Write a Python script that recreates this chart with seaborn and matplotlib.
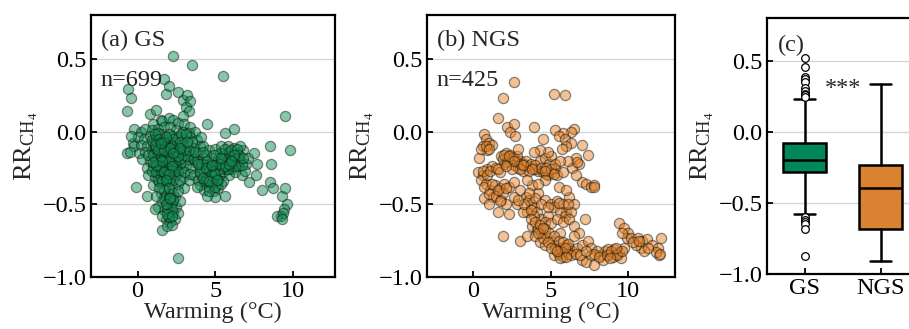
import matplotlib
matplotlib.use("Agg")
import matplotlib.pyplot as plt
import seaborn as sns
import pandas as pd

# ---------------- data ----------------
gs_points = [
    (-0.6, 0.29), (-0.45, 0.23), (-0.7, 0.14), (1.7, 0.36), (2.3, 0.52), (3.5, 0.46), (5.5, 0.38),
    (2.0, 0.31), (1.8, 0.26), (2.6, 0.27), (2.9, 0.22), (3.2, 0.25), (3.4, 0.21), (3.1, 0.17),
    (3.3, 0.14), (2.9, 0.11), (0.8, 0.12), (1.2, 0.15), (1.5, 0.08), (9.5, 0.11), (9.8, -0.13),
    (6.2, 0.02), (5.6, -0.01), (4.5, 0.05), (-0.1, -0.38), (0.6, -0.44), (2.6, -0.87), (1.6, -0.68),
    (-0.7, -0.15), (-0.3, -0.08), (-0.2, 0.02), (0.2, 0.0),
    (1.6, 0.07), (2.0, 0.09), (2.3, 0.08), (2.6, 0.06), (1.0, 0.05), (3.0, 0.05), (3.4, 0.03),
    (0.5, 0.02), (0.9, 0.01), (1.3, 0.02), (1.7, 0.03), (2.1, 0.03), (2.5, 0.01), (2.9, 0.0),
    (3.3, -0.01), (3.7, 0.0),
    (0.0, -0.04), (0.4, -0.05), (0.8, -0.03), (1.2, -0.04), (1.5, -0.02), (1.9, -0.05), (2.2, -0.03),
    (2.6, -0.04), (3.0, -0.05), (3.4, -0.04), (3.8, -0.06), (-0.4, -0.03),
    (-0.2, -0.10), (0.2, -0.09), (0.6, -0.10), (1.0, -0.08), (1.4, -0.09), (1.8, -0.10), (2.1, -0.08),
    (2.4, -0.11), (2.8, -0.09), (3.2, -0.10), (3.6, -0.11), (4.0, -0.10),
    (-0.5, -0.14), (0.1, -0.15), (0.5, -0.14), (0.9, -0.13), (1.3, -0.15), (1.6, -0.14), (2.0, -0.16),
    (2.3, -0.13), (2.7, -0.15), (3.1, -0.14), (3.5, -0.16), (3.9, -0.15),
    (0.3, -0.19), (0.8, -0.20), (1.1, -0.18), (1.5, -0.20), (1.8, -0.19), (2.2, -0.21), (2.5, -0.18),
    (2.9, -0.20), (3.3, -0.19), (3.7, -0.21),
    (0.6, -0.25), (1.0, -0.24), (1.3, -0.26), (1.7, -0.23), (2.0, -0.25), (2.4, -0.24), (2.8, -0.26),
    (3.1, -0.23), (3.5, -0.25),
    (0.7, -0.30), (1.1, -0.31), (1.4, -0.29), (1.8, -0.30), (2.1, -0.32), (2.5, -0.30), (2.9, -0.31),
    (3.3, -0.33),
    (1.0, -0.37), (1.4, -0.35), (1.8, -0.36), (2.2, -0.38), (2.6, -0.36), (3.0, -0.39),
    (1.2, -0.06), (1.6, -0.11), (2.0, -0.13), (2.4, -0.07), (1.4, -0.21), (1.9, -0.27), (2.3, -0.19),
    (2.7, -0.22), (1.1, -0.12), (1.7, -0.17), (2.2, -0.28), (2.6, -0.12), (1.5, -0.32), (2.0, -0.34),
    (1.3, -0.01), (2.8, -0.02), (3.0, -0.16), (1.9, -0.07), (2.5, -0.26), (1.6, -0.25),
    (0.9, -0.06), (1.1, -0.02), (1.4, -0.05), (1.7, -0.07), (2.0, -0.02), (2.3, -0.05), (2.7, -0.07),
    (3.1, -0.02), (3.5, -0.07),
    (0.7, -0.16), (1.0, -0.16), (1.2, -0.20), (1.5, -0.17), (1.9, -0.14), (2.1, -0.18), (2.4, -0.16),
    (2.8, -0.18), (3.2, -0.17), (3.6, -0.19),
    (0.9, -0.27), (1.2, -0.28), (1.5, -0.27), (1.8, -0.25), (2.1, -0.27), (2.3, -0.25), (2.6, -0.28),
    (3.0, -0.28), (3.4, -0.29),
    (1.3, -0.33), (1.6, -0.34), (1.9, -0.32), (2.3, -0.33), (2.7, -0.33), (1.2, -0.11), (1.5, -0.12),
    (2.2, -0.10), (2.5, -0.14), (2.9, -0.13), (3.3, -0.13),
    (1.1, -0.09), (1.3, -0.13), (1.7, -0.13), (1.8, -0.04), (2.1, -0.11), (2.4, -0.20), (2.6, -0.17),
    (1.4, -0.24), (1.7, -0.28), (2.0, -0.20), (2.2, -0.24), (1.2, -0.23), (1.6, -0.20), (2.0, -0.29),
    (1.8, -0.33), (1.0, -0.21), (2.7, -0.11), (3.2, -0.07), (1.5, -0.08), (2.3, -0.15),
    (1.5, -0.42), (1.8, -0.44), (2.1, -0.43), (2.4, -0.45), (1.6, -0.48), (1.9, -0.50), (2.2, -0.49),
    (2.5, -0.52), (1.7, -0.54), (2.0, -0.56), (2.3, -0.55), (1.8, -0.60), (2.1, -0.62), (2.4, -0.60),
    (2.6, -0.56), (1.9, -0.65), (2.2, -0.64), (1.3, -0.52), (1.1, -0.53), (2.7, -0.48),
    (1.7, -0.40), (2.0, -0.39), (2.3, -0.42), (1.7, -0.46), (2.0, -0.46), (2.3, -0.47), (1.9, -0.53),
    (2.2, -0.53), (1.6, -0.58), (2.0, -0.59), (1.4, -0.39), (1.2, -0.44), (2.6, -0.41),
    (1.8, -0.50), (2.1, -0.46), (1.9, -0.57), (2.2, -0.58),
    (3.8, -0.20), (4.0, -0.25), (4.2, -0.18), (4.4, -0.22), (4.6, -0.27), (4.8, -0.20), (5.0, -0.24),
    (5.2, -0.18), (5.4, -0.22), (5.6, -0.15), (5.8, -0.20), (6.0, -0.17), (6.2, -0.22), (6.4, -0.15),
    (6.6, -0.19), (6.8, -0.13), (7.0, -0.22),
    (3.6, -0.30), (3.9, -0.33), (4.1, -0.30), (4.3, -0.35), (4.5, -0.31), (4.7, -0.36), (4.9, -0.32),
    (5.1, -0.37), (5.3, -0.30), (5.5, -0.28), (5.7, -0.26), (5.9, -0.30), (6.1, -0.26), (6.3, -0.28),
    (6.5, -0.24), (6.7, -0.30),
    (4.0, -0.37), (4.3, -0.40), (4.6, -0.38), (4.9, -0.41), (5.2, -0.39), (5.0, -0.45), (4.5, -0.44),
    (5.6, -0.44), (3.8, -0.38),
    (4.2, -0.10), (4.6, -0.13), (5.0, -0.12), (5.4, -0.10), (5.8, -0.10), (6.2, -0.11), (6.6, -0.10),
    (5.3, -0.15), (5.9, -0.14), (6.5, -0.20), (6.0, -0.24), (5.5, -0.34), (4.8, -0.28), (4.4, -0.16),
    (6.9, -0.27), (7.1, -0.18), (3.7, -0.14), (4.1, -0.04),
    (4.1, -0.22), (4.3, -0.27), (4.5, -0.20), (4.7, -0.24), (4.9, -0.27), (5.1, -0.21), (5.3, -0.26),
    (5.5, -0.19), (5.7, -0.23), (5.9, -0.17), (6.1, -0.20), (6.3, -0.18), (6.5, -0.16), (6.7, -0.23),
    (6.3, -0.24), (5.8, -0.26), (5.2, -0.33), (4.8, -0.35), (4.4, -0.33), (4.0, -0.28), (4.6, -0.41),
    (5.0, -0.38), (5.4, -0.36), (3.9, -0.22), (4.2, -0.14), (4.9, -0.16), (5.6, -0.12), (6.0, -0.13),
    (6.4, -0.12), (6.8, -0.18),
    (4.4, -0.25), (4.7, -0.30), (5.0, -0.29), (5.3, -0.22), (5.6, -0.24), (5.9, -0.22), (6.2, -0.16),
    (6.0, -0.20), (5.4, -0.18), (4.8, -0.23), (4.2, -0.32), (4.6, -0.34), (5.1, -0.33),
    (7.2, -0.35), (7.5, -0.15), (7.6, -0.30), (7.7, -0.22), (8.0, -0.40), (8.5, -0.10), (8.6, -0.22),
    (8.5, -0.35), (8.7, -0.39), (9.3, -0.44), (9.5, -0.39), (9.6, -0.50), (9.4, -0.53), (9.2, -0.58),
    (9.0, -0.58), (9.35, -0.56), (9.3, -0.60),
]

ngs_points = [
    (2.6, 0.34), (1.9, 0.23), (5.2, 0.26), (5.9, 0.25), (1.6, 0.09), (2.2, 0.03), (2.6, 0.05),
    (3.9, 0.03), (2.4, 0.00), (2.7, -0.03), (5.3, 0.01), (6.5, 0.02), (6.3, 0.00), (5.8, -0.01),
    (4.5, -0.05), (7.0, -0.09), (7.4, -0.16),
    (0.7, -0.02), (0.8, -0.05), (0.6, -0.10), (1.0, -0.08), (1.2, -0.09), (0.4, -0.18), (0.9, -0.13),
    (0.5, -0.12), (0.8, -0.10), (1.0, -0.12),
    (0.3, -0.28), (0.6, -0.30), (0.9, -0.26), (1.2, -0.24), (0.5, -0.33), (0.8, -0.36), (1.1, -0.40),
    (0.7, -0.46), (1.3, -0.45), (1.0, -0.50), (0.6, -0.27), (0.9, -0.30), (1.1, -0.27), (0.7, -0.38),
    (1.0, -0.43),
    (1.8, -0.17), (2.1, -0.15), (2.4, -0.16), (2.7, -0.19), (3.0, -0.20), (3.3, -0.22), (3.6, -0.24),
    (3.9, -0.25), (4.2, -0.27), (4.5, -0.28), (4.8, -0.30), (5.1, -0.28), (5.4, -0.30), (2.0, -0.22),
    (2.3, -0.20), (2.6, -0.23), (2.9, -0.25), (3.2, -0.27), (1.5, -0.25), (1.7, -0.28), (4.3, -0.20),
    (4.6, -0.18), (4.9, -0.22), (5.0, -0.17), (5.3, -0.25), (2.2, -0.18), (2.8, -0.21), (3.4, -0.24),
    (4.0, -0.26), (4.7, -0.29),
    (1.9, -0.19), (2.2, -0.21), (2.5, -0.18), (2.8, -0.17), (3.1, -0.22), (3.4, -0.20), (3.7, -0.22),
    (4.0, -0.23), (4.4, -0.25), (4.7, -0.25), (5.0, -0.26), (5.3, -0.22), (3.6, -0.27), (3.0, -0.26),
    (2.5, -0.26), (2.0, -0.16), (2.3, -0.17), (2.6, -0.20), (3.2, -0.23), (3.8, -0.26), (4.6, -0.27),
    (5.2, -0.29), (1.6, -0.26), (2.1, -0.24),
    (1.4, -0.37), (1.7, -0.39), (2.0, -0.36), (2.3, -0.38), (1.5, -0.44), (1.8, -0.47), (2.1, -0.50),
    (1.6, -0.55), (2.3, -0.57), (1.9, -0.72), (1.2, -0.36), (1.9, -0.42), (1.6, -0.40), (2.1, -0.39),
    (1.7, -0.48),
    (2.6, -0.35), (3.0, -0.40), (3.4, -0.45), (3.7, -0.50), (3.9, -0.52), (3.5, -0.55), (4.1, -0.55),
    (3.2, -0.55), (2.8, -0.50), (3.8, -0.37), (4.2, -0.42), (4.6, -0.47), (5.0, -0.50), (5.4, -0.48),
    (5.8, -0.50), (6.2, -0.45), (6.5, -0.50), (4.4, -0.60), (4.8, -0.58), (3.0, -0.75), (3.5, -0.72),
    (3.6, -0.47), (4.0, -0.46), (5.2, -0.52), (6.0, -0.55),
    (3.3, -0.50), (3.6, -0.42), (4.4, -0.50), (4.8, -0.52), (5.6, -0.55), (5.9, -0.58), (6.3, -0.55),
    (3.9, -0.58), (4.6, -0.62), (2.6, -0.45), (2.9, -0.47), (3.7, -0.54), (5.5, -0.49), (6.1, -0.50),
    (3.8, -0.65), (4.1, -0.68), (4.4, -0.70), (4.7, -0.72), (5.0, -0.75), (5.3, -0.78), (5.6, -0.80),
    (5.9, -0.82), (6.2, -0.80), (4.0, -0.72), (4.3, -0.76), (4.6, -0.78), (5.2, -0.85), (5.5, -0.84),
    (5.8, -0.86), (6.0, -0.78), (6.4, -0.82), (6.7, -0.80), (7.0, -0.78), (5.0, -0.63), (5.4, -0.60),
    (5.8, -0.62), (6.2, -0.60), (6.5, -0.65), (6.8, -0.70), (7.2, -0.60), (7.4, -0.75), (7.6, -0.80),
    (4.2, -0.66), (4.5, -0.73), (5.7, -0.83), (6.1, -0.84), (6.5, -0.72), (5.6, -0.70),
    (3.7, -0.60), (4.0, -0.62), (4.3, -0.64), (4.6, -0.67), (4.9, -0.70), (5.2, -0.72), (5.5, -0.75),
    (5.8, -0.76), (6.1, -0.77), (4.2, -0.70), (4.8, -0.76), (5.3, -0.81), (5.6, -0.87), (6.3, -0.85),
    (6.6, -0.84), (4.5, -0.66), (5.0, -0.80), (5.9, -0.80), (6.0, -0.86), (5.4, -0.82),
    (7.0, -0.88), (7.3, -0.90), (7.8, -0.92), (8.2, -0.85), (8.5, -0.82), (8.8, -0.84), (9.1, -0.81),
    (9.4, -0.83), (9.7, -0.80), (8.0, -0.82), (8.4, -0.88), (9.0, -0.86), (9.5, -0.87), (7.6, -0.85),
    (6.9, -0.85), (8.7, -0.81), (9.2, -0.84), (7.8, -0.84), (8.1, -0.86), (8.6, -0.85), (8.9, -0.82),
    (9.3, -0.85), (9.6, -0.82), (7.3, -0.82), (9.2, -0.80), (8.8, -0.87),
    (9.4, -0.63), (9.7, -0.66), (10.0, -0.70), (9.9, -0.73), (10.2, -0.73), (10.6, -0.73),
    (10.9, -0.75), (11.2, -0.74), (11.5, -0.78), (11.9, -0.80), (12.1, -0.73), (12.0, -0.85),
    (10.8, -0.80), (10.5, -0.78), (11.0, -0.82), (11.8, -0.83), (9.6, -0.70), (10.3, -0.76),
    (11.3, -0.80), (10.7, -0.75), (12.05, -0.84),
    (5.5, -0.03), (5.9, -0.05), (6.3, -0.08), (6.0, -0.10), (5.7, -0.12), (6.6, -0.18), (6.8, -0.22),
    (6.4, -0.25), (6.1, -0.20), (5.6, -0.20), (4.8, -0.14), (4.3, -0.13), (3.9, -0.14), (2.9, -0.12),
    (7.0, -0.35), (7.3, -0.36), (7.6, -0.38), (7.8, -0.37), (6.6, -0.30), (5.8, -0.28), (5.5, -0.38),
    (6.0, -0.40), (4.6, -0.33), (4.2, -0.36), (3.5, -0.33), (7.8, -0.38), (6.7, -0.21),
]

box_labels = ["GS", "NGS"]
box_q1 = [-0.28, -0.685]
box_median = [-0.197, -0.397]
box_q3 = [-0.075, -0.235]
box_whislo = [-0.58, -0.906]
box_whishi = [0.23, 0.336]
box_fliers = [
    [0.52, 0.46, 0.39, 0.37, 0.35, 0.31, 0.29, 0.27, 0.26, 0.25,
     -0.60, -0.62, -0.63, -0.65, -0.68, -0.87],
    [],
]

panel_titles = ["(a) GS", "(b) NGS", "(c)"]
panel_counts = ["n=699", "n=425"]
yticks = [-1.0, -0.5, 0.0, 0.5]
xticks = [0, 5, 10]

green_pt = "#118f55"
orange_pt = "#e8842c"
green_box = "#00875a"
orange_box = "#d98232"

# ---------------- style ----------------
sns.set_theme(style="ticks")
plt.rcParams["font.family"] = ["Liberation Serif", "DejaVu Serif"]
plt.rcParams["mathtext.fontset"] = "custom"
plt.rcParams["mathtext.rm"] = "Liberation Serif"
plt.rcParams["mathtext.it"] = "Liberation Serif:italic"
plt.rcParams["axes.unicode_minus"] = True

FS = 17.5
ylab = r"$\mathrm{RR_{CH_4}}$"

fig = plt.figure(figsize=(9.09, 3.29), dpi=100)
ax_a = fig.add_axes([0.100, 0.158, 0.2685, 0.796])
ax_b = fig.add_axes([0.4694, 0.158, 0.273, 0.796])
ax_c = fig.add_axes([0.8435, 0.167, 0.167, 0.777])


def style_axes(ax):
    ax.set_ylim(-1.0, 0.8)
    ax.set_yticks(yticks)
    ax.yaxis.grid(True, color="#d4d4d4", linewidth=0.9)
    ax.xaxis.grid(False)
    ax.set_axisbelow(True)
    for sp in ax.spines.values():
        sp.set_visible(True)
        sp.set_linewidth(1.6)
        sp.set_color("black")
    ax.tick_params(direction="in", length=4, width=1.3, labelsize=FS, colors="black",
                   top=False, right=False, pad=3)
    ax.set_ylabel(ylab, fontsize=FS + 1.5, labelpad=2)


for ax, pts, col, title, cnt, xl in [
    (ax_a, gs_points, green_pt, panel_titles[0], panel_counts[0], (-3, 12.7)),
    (ax_b, ngs_points, orange_pt, panel_titles[1], panel_counts[1], (-3, 13)),
]:
    df = pd.DataFrame(pts, columns=["warming", "rr"])
    sns.scatterplot(data=df, x="warming", y="rr", ax=ax, color=col, s=54, alpha=0.5,
                    edgecolor="#101812", linewidth=0.9, zorder=3)
    style_axes(ax)
    ax.set_xlim(*xl)
    ax.set_xticks(xticks)
    ax.set_xlabel("Warming (°C)", fontsize=FS, labelpad=0)
    ax.text(0.04, 0.905, title, transform=ax.transAxes, fontsize=FS, va="center", ha="left")
    ax.text(0.04, 0.752, cnt, transform=ax.transAxes, fontsize=FS, va="center", ha="left")

# box panel
stats = []
for i in range(len(box_labels)):
    stats.append(dict(label=box_labels[i], med=box_median[i], q1=box_q1[i], q3=box_q3[i],
                      whislo=box_whislo[i], whishi=box_whishi[i], fliers=box_fliers[i]))
bp = ax_c.bxp(stats, positions=[0, 1], widths=0.56, patch_artist=True, showfliers=True,
              boxprops=dict(linewidth=1.8, edgecolor="black"),
              medianprops=dict(color="black", linewidth=1.8),
              whiskerprops=dict(color="black", linewidth=1.8),
              capprops=dict(color="black", linewidth=1.8),
              flierprops=dict(marker="o", markersize=5.5, markerfacecolor="white",
                              markeredgecolor="black", markeredgewidth=0.9))
for patch, c in zip(bp["boxes"], [green_box, orange_box]):
    patch.set_facecolor(c)
style_axes(ax_c)
ax_c.set_xlim(-0.5, 1.5)
ax_c.set_xticks([0, 1])
ax_c.set_xticklabels(box_labels)
ax_c.text(0.074, 0.895, panel_titles[2], transform=ax_c.transAxes, fontsize=FS,
          va="center", ha="left")
ax_c.text(0.5, 0.31, "***", fontsize=FS, ha="center", va="center")

fig.savefig("out.png", dpi=100)
